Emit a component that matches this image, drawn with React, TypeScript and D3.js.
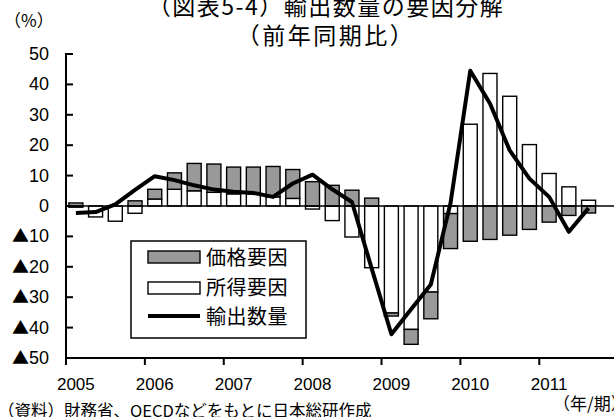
import React from "react";
import * as d3 from "d3";

// Quarterly periods, 2005Q1 - 2011Q3
const periods = [
  "2005Q1", "2005Q2", "2005Q3", "2005Q4",
  "2006Q1", "2006Q2", "2006Q3", "2006Q4",
  "2007Q1", "2007Q2", "2007Q3", "2007Q4",
  "2008Q1", "2008Q2", "2008Q3", "2008Q4",
  "2009Q1", "2009Q2", "2009Q3", "2009Q4",
  "2010Q1", "2010Q2", "2010Q3", "2010Q4",
  "2011Q1", "2011Q2", "2011Q3",
];
// Axis slots run to the end of 2011
const axisPeriods = [...periods, "2011Q4"];
const yearLabels = ["2005", "2006", "2007", "2008", "2009", "2010", "2011"];

// 所得要因 (income factor), % yoy contribution
const incomeFactor = [
  -0.4, -3.6, -5.0, -2.4,
  2.3, 5.5, 5.0, 4.5,
  4.0, 4.0, 3.0, 2.5,
  -1.0, -4.8, -10.2, -20.3,
  -35.2, -40.6, -28.3, -2.5,
  26.9, 43.6, 36.1, 20.2,
  10.7, 6.3, 1.9,
];
// 価格要因 (price factor)
const priceFactor = [
  1.0, 0.0, 0.0, 1.7,
  3.2, 5.4, 9.0, 9.3,
  8.8, 8.8, 10.0, 9.5,
  8.0, 6.8, 5.2, 2.6,
  -1.0, -4.9, -8.8, -11.5,
  -11.6, -11.0, -9.6, -7.7,
  -5.3, -3.1, -2.3,
];
// 輸出数量 (export volume), % yoy
const exportVolume = [
  -2.3, -2.0, 0.5, 5.3,
  9.8, 8.5, 6.8, 5.4,
  4.7, 4.3, 3.0, 7.4,
  10.3, 5.5, 1.3, -20.5,
  -42.2, -34.0, -25.8, 1.0,
  44.5, 33.7, 18.3, 9.0,
  3.0, -8.5, -0.7,
];
const yTicks = [50, 40, 30, 20, 10, 0, -10, -20, -30, -40, -50];

const W = 614;
const H = 417;
const plotLeft = 66;
const plotTop = 54;
const plotBottom = 358;
const quarterStep = 19.72;

const JP = "'Noto Sans CJK JP', sans-serif";
const NUM = "'Liberation Sans', 'Noto Sans CJK JP', sans-serif";
const GRAY = "#999999";

export default function App() {
  const x = d3
    .scaleBand<string>()
    .domain(axisPeriods)
    .range([plotLeft, plotLeft + quarterStep * axisPeriods.length])
    .paddingInner(0.29)
    .paddingOuter(0.145);
  const y = d3.scaleLinear().domain([-50, 50]).range([plotBottom, plotTop]);

  const bw = x.bandwidth();
  const center = (p: string) => (x(p) as number) + bw / 2;

  // stack: income first, price second; positives up, negatives down
  const segments: { p: string; y0: number; y1: number; fill: string }[] = [];
  periods.forEach((p, i) => {
    let pos = 0;
    let neg = 0;
    [
      { v: incomeFactor[i], fill: "#ffffff" },
      { v: priceFactor[i], fill: GRAY },
    ].forEach(({ v, fill }) => {
      if (v === 0) return;
      if (v > 0) {
        segments.push({ p, y0: pos, y1: pos + v, fill });
        pos += v;
      } else {
        segments.push({ p, y0: neg, y1: neg + v, fill });
        neg += v;
      }
    });
  });

  const line = d3
    .line<number>()
    .x((_, i) => center(periods[i]))
    .y((d) => y(d))
    .curve(d3.curveLinear);

  const yearTickX = yearLabels.map(
    (yr) => (x(`${yr}Q1`) as number) - (quarterStep - bw) / 2
  );
  const axisRight = W;

  return (
    <svg
      width={W}
      height={H}
      style={{ position: "absolute", left: 0, top: 0, background: "#fff" }}
    >
      {/* titles */}
      <text x={326} y={15} textAnchor="middle" fontFamily={JP} fontSize={23} letterSpacing={1.5}>
        （図表5-4）輸出数量の要因分解
      </text>
      <text x={326} y={44} textAnchor="middle" fontFamily={JP} fontSize={23} letterSpacing={2.5}>
        （前年同期比）
      </text>
      <text x={4} y={27} fontFamily={JP} fontSize={17}>
        （%）
      </text>

      {/* bars */}
      {segments.map((s, i) => (
        <rect
          key={i}
          x={x(s.p) as number}
          width={bw}
          y={y(Math.max(s.y0, s.y1))}
          height={Math.abs(y(s.y0) - y(s.y1))}
          fill={s.fill}
          stroke="#000"
          strokeWidth={1.4}
        />
      ))}

      {/* zero line */}
      <line x1={plotLeft} x2={axisRight} y1={y(0)} y2={y(0)} stroke="#000" strokeWidth={1.6} />

      {/* y axis */}
      <line x1={plotLeft} x2={plotLeft} y1={plotTop - 1} y2={plotBottom} stroke="#000" strokeWidth={2} />
      {yTicks.map((t) => (
        <g key={t}>
          <line x1={plotLeft} x2={plotLeft + 7} y1={y(t)} y2={y(t)} stroke="#000" strokeWidth={2} />
          <text x={49} y={y(t) + 6} textAnchor="end" fontFamily={NUM} fontSize={18}>
            {t < 0 ? (
              <>
                <tspan fontFamily={JP} fontSize={17}>▲</tspan>
                {`${-t}`}
              </>
            ) : (
              `${t}`
            )}
          </text>
        </g>
      ))}

      {/* x axis */}
      <line x1={plotLeft} x2={axisRight} y1={plotBottom} y2={plotBottom} stroke="#000" strokeWidth={2} />
      {yearTickX.map((tx, i) => (
        <g key={i}>
          <line x1={tx} x2={tx} y1={plotBottom} y2={plotBottom + 7} stroke="#000" strokeWidth={2} />
          <text
            x={center(`${yearLabels[i]}Q1`)}
            y={390}
            textAnchor="middle"
            fontFamily={NUM}
            fontSize={17}
          >
            {yearLabels[i]}
          </text>
        </g>
      ))}

      {/* export volume line */}
      <path d={line(exportVolume) as string} fill="none" stroke="#000" strokeWidth={4} strokeLinejoin="round" />

      {/* legend */}
      <rect x={131} y={241} width={175} height={97} fill="#fff" stroke="#000" strokeWidth={1.5} />
      <rect x={148} y={251} width={52} height={12} fill={GRAY} stroke="#000" strokeWidth={1.4} />
      <text x={206} y={265} fontFamily={JP} fontSize={20} letterSpacing={0.5}>価格要因</text>
      <rect x={148} y={282} width={52} height={12} fill="#fff" stroke="#000" strokeWidth={1.4} />
      <text x={206} y={295} fontFamily={JP} fontSize={20} letterSpacing={0.5}>所得要因</text>
      <line x1={148} x2={200} y1={316} y2={316} stroke="#000" strokeWidth={4} />
      <text x={206} y={324} fontFamily={JP} fontSize={20} letterSpacing={0.5}>輸出数量</text>

      {/* notes */}
      <text x={553} y={410} fontFamily={JP} fontSize={17}>（年/期）</text>
      <text x={-2} y={417} fontFamily={JP} fontSize={16.5}>
        （資料）財務省、OECDなどをもとに日本総研作成
      </text>
    </svg>
  );
}
